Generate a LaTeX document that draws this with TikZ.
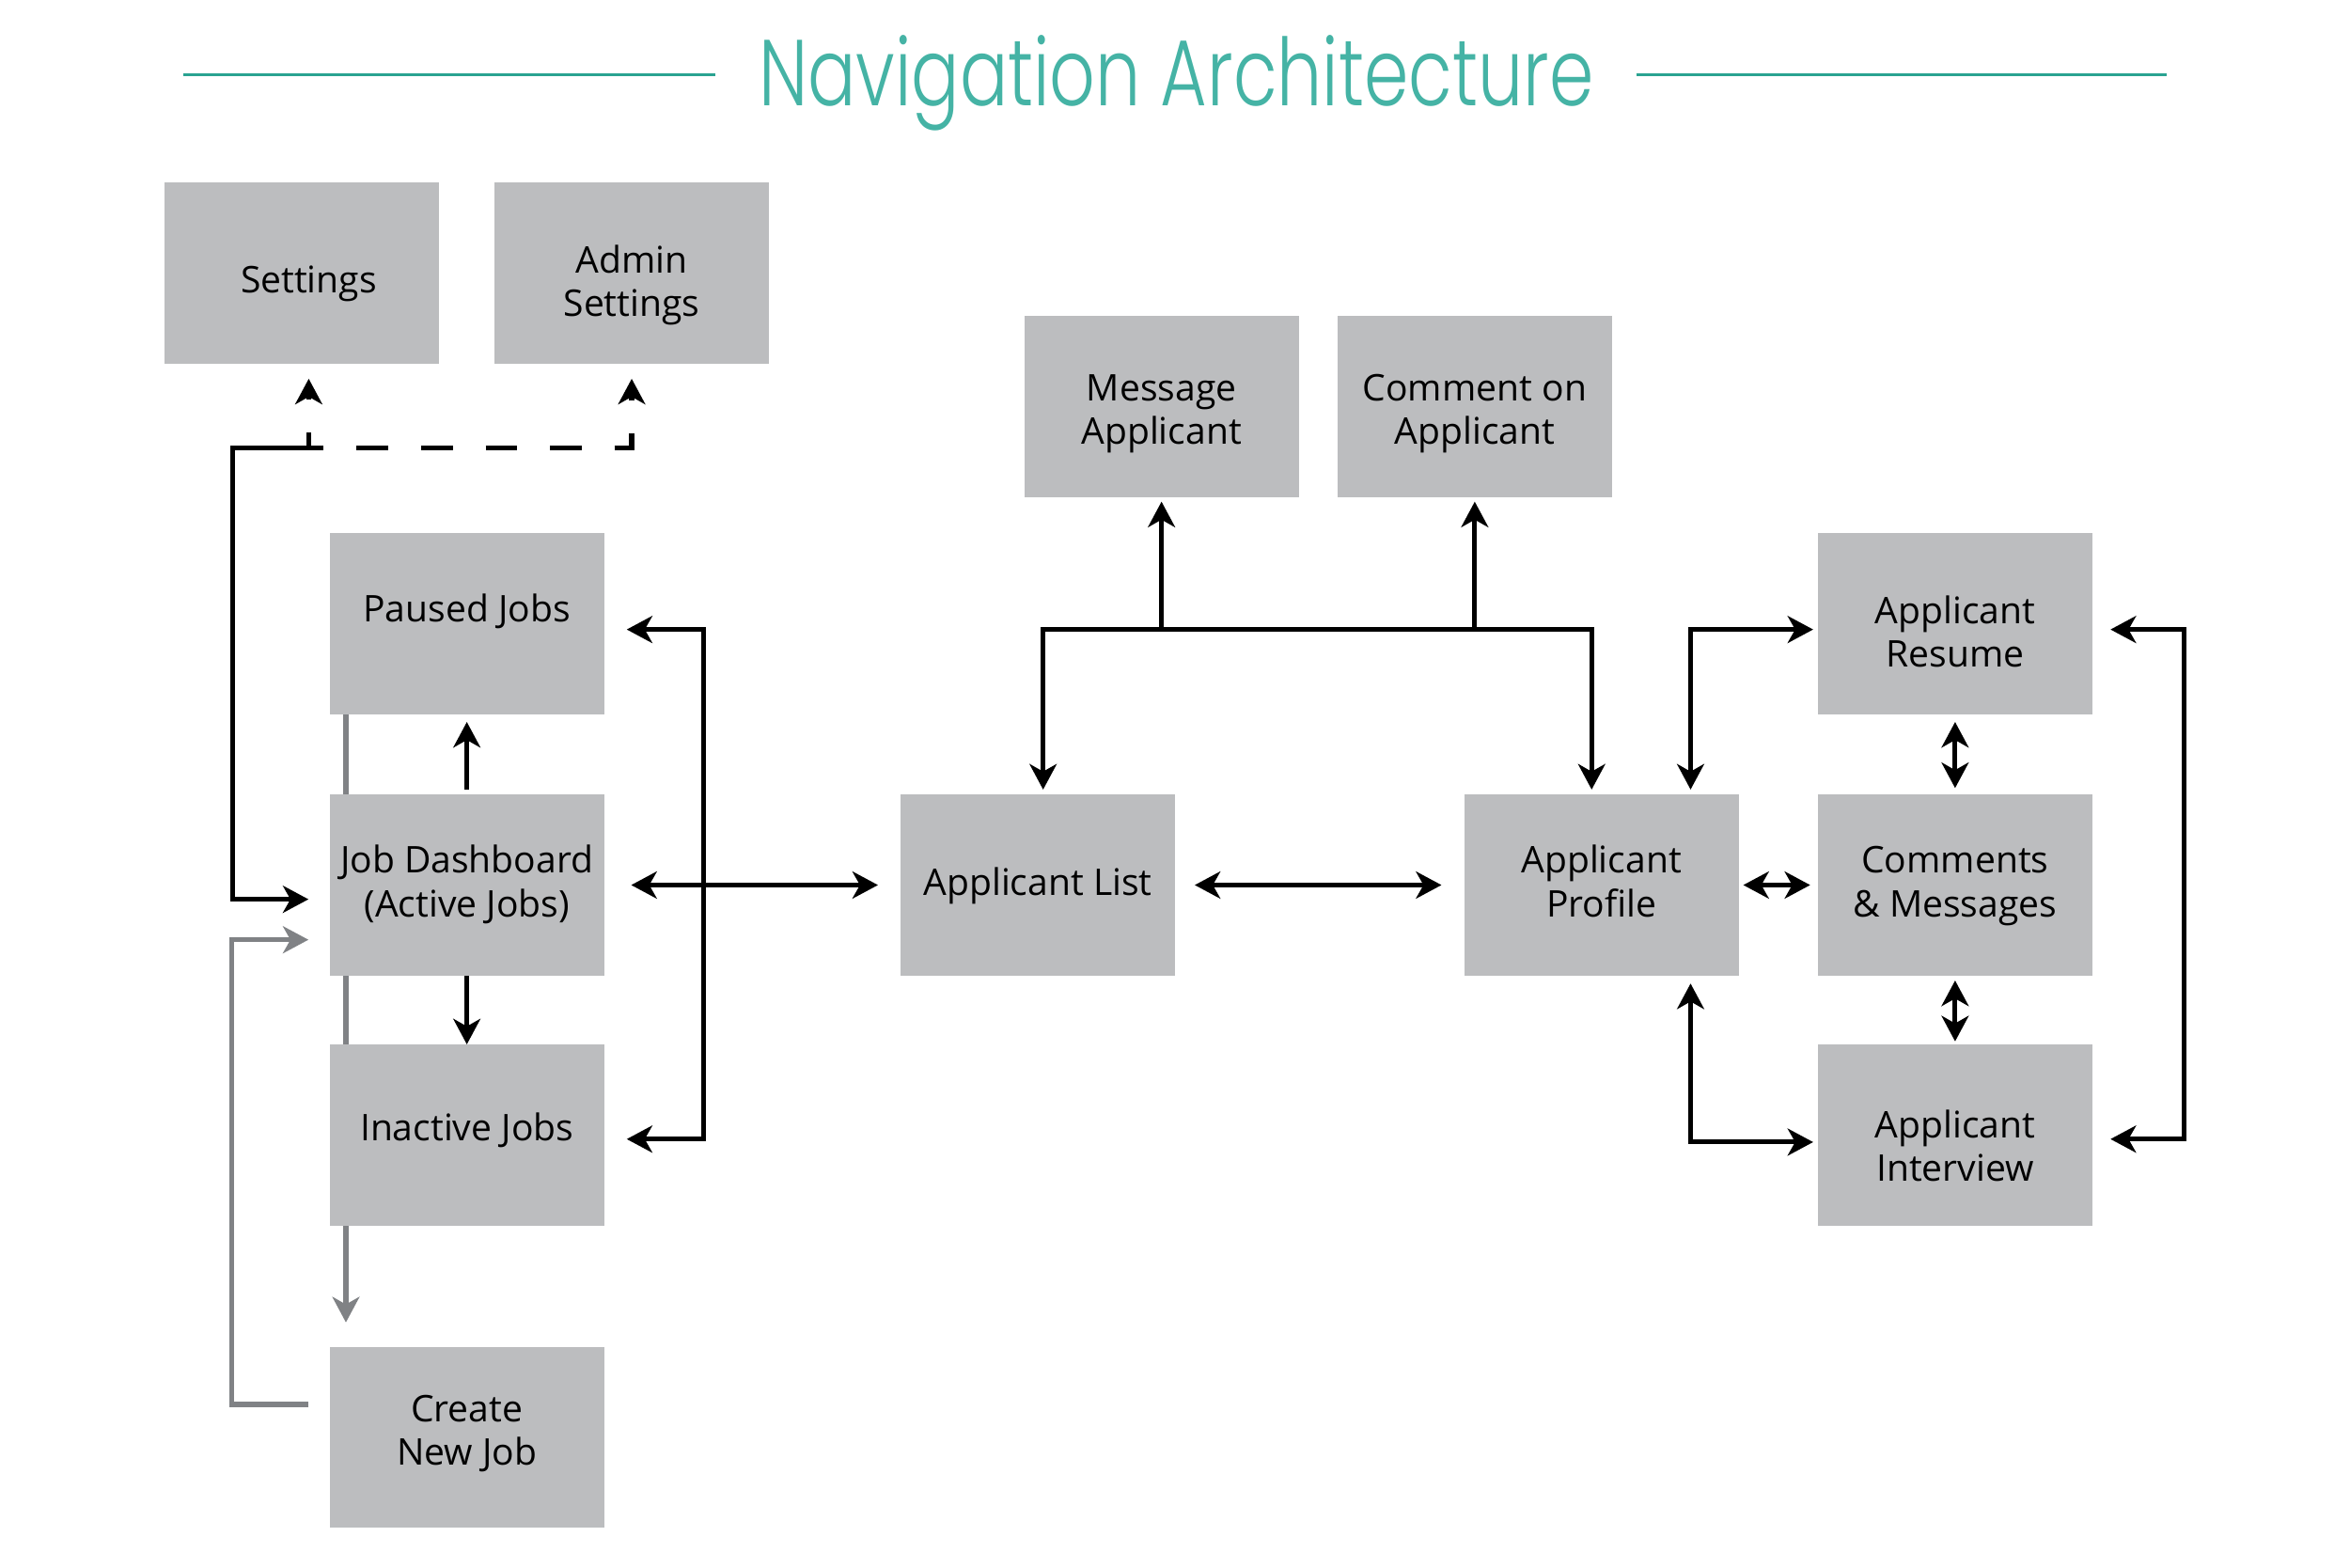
\documentclass[tikz,border=0pt]{standalone}
\usepackage{fontspec}
\usepackage{graphicx}
\setmainfont{Open Sans}
\newfontfamily\titlefont{Poppins Light}
\usetikzlibrary{arrows.meta,backgrounds,calc}
\definecolor{boxgray}{HTML}{BCBDBF}
\definecolor{linegray}{HTML}{808285}
\definecolor{tealtext}{HTML}{45B3A5}
\definecolor{tealline}{HTML}{2AA391}
% text with fixed top (#1) and bottom (#2) struts, to place the baselines
\newcommand\bxt[3]{\rule{0pt}{#1pt}#3\rule[-#2pt]{0pt}{#2pt}}
\tikzset{
  nav/.tip={Stealth[length=17pt,width=18pt,inset=5pt]},
  box/.style={fill=boxgray, minimum width=183pt, minimum height=121pt, inner sep=0pt,
    align=center, font=\fontsize{24.5}{29}\selectfont, text=black},
  conn/.style={line width=3.2pt, black},
  one/.style={conn, -{nav}},
  two/.style={conn, {nav}-{nav}},
  gone/.style={line width=3.2pt, linegray, -{nav}},
  dsh/.style={dash pattern=on 21pt off 22pt, dash phase=11pt},
}
\begin{document}
\begin{tikzpicture}[x=1pt,y=-1pt]
\useasboundingbox (0,0) rectangle (1568,1046);

% title
\node[anchor=base west, inner sep=0pt, text=tealtext] (title) at (506,70.7)
  {\resizebox{557pt}{47pt}{\titlefont Navigation Architecture}};
\draw[tealline, line width=1.7pt] ([xshift=-29pt,yshift=20.7pt]title.base west) -- ++(-355,0);
\draw[tealline, line width=1.7pt] ([xshift=28pt,yshift=20.7pt]title.base east) -- ++(354,0);

% boxes
\node[box] (settings) at (201.5,182) {\bxt{35}{8}{\hspace*{9pt}Settings}};
\node[box] (admin) at (421.5,182) {\bxt{37.6}{8}{Admin\\Settings}};
\node[box] (message) at (775,271) {\bxt{30.2}{8}{Message\\Applicant}};
\node[box] (comment) at (984,271) {\bxt{30.2}{8}{Comment on\\Applicant}};
\node[box] (paused) at (311.5,416) {\bxt{28}{30}{Paused Jobs}};
\node[box] (dash) at (311.5,590.5) {\bxt{21.2}{8}{Job Dashboard\\(Active Jobs)}};
\node[box] (inactive) at (311.5,757.5) {\bxt{27.8}{20}{Inactive Jobs}};
\node[box] (create) at (311.5,959) {\bxt{28}{20}{Create\\New Job}};
\node[box] (alist) at (692.5,590.5) {\bxt{21.4}{8}{Applicant List}};
\node[box] (profile) at (1068.5,590.5) {\bxt{21.2}{8}{Applicant\\Profile}};
\node[box] (resume) at (1304.5,416) {\bxt{37}{8}{Applicant\\Resume}};
\node[box] (comments) at (1304.5,590.5) {\bxt{21.2}{8}{Comments\\\&~Messages}};
\node[box] (interview) at (1304.5,757.5) {\bxt{40.4}{8}{Applicant\\Interview}};

% gray connectors
\begin{scope}[on background layer]
\draw[gone] ([xshift=11pt]paused.south west) -- ([xshift=11pt,yshift=16pt]create.north west);
\end{scope}
\draw[gone] ([xshift=-14pt,yshift=22pt]create.west) -- ++(-51,0) |- ([xshift=-14pt,yshift=-36.5pt]dash.west);

% settings connectors
\coordinate (j) at ([xshift=4.5pt,yshift=-56pt]settings.south);
\draw[one] (j) -- ++(-51,0) |- ([xshift=-14pt,yshift=-9.5pt]dash.west);
\draw[one, dsh] (j) -- ([xshift=4.5pt,yshift=-10pt]settings.south);
\draw[one, dsh] (j) -| ([yshift=-10pt]admin.south);

% job connectors
\draw[one] ([yshift=3pt]dash.north) -- ([yshift=-5pt]paused.south);
\draw[one] (dash.south) -- (inactive.north);
\draw[two] ([xshift=15pt,yshift=-4pt]paused.east) -- ++(51,0) |- ([xshift=15pt,yshift=-2.5pt]inactive.east);
\draw[two] ([xshift=18pt]dash.east) -- ([xshift=-15pt]alist.west);

% applicant tree
\coordinate (tl) at ([xshift=3.5pt,yshift=110pt]alist.north);
\coordinate (tr) at ([xshift=-6.5pt,yshift=110pt]profile.north);
\draw[two] ([xshift=3.5pt,yshift=3pt]alist.north) -- (tl) -- (tr) -- ([xshift=-6.5pt,yshift=3pt]profile.north);
\draw[one] (tl -| message.south) -- ([yshift=-3pt]message.south);
\draw[one] (tl -| comment.south) -- ([yshift=-3pt]comment.south);
\draw[two] ([xshift=13pt]alist.east) -- ([xshift=-15pt]profile.west);

% right cluster
\draw[two] ([xshift=3pt]profile.east) -- ([xshift=-5pt]comments.west);
\draw[two] ([xshift=59.5pt,yshift=3pt]profile.north) |- ([xshift=-3pt,yshift=-4pt]resume.west);
\draw[two] ([xshift=59.5pt,yshift=-5pt]profile.south) |- ([xshift=-3pt,yshift=-4.5pt]interview.west);
\draw[two] ([yshift=-5pt]resume.south) -- ([yshift=4pt]comments.north);
\draw[two] ([yshift=-3pt]comments.south) -- ([yshift=2pt]interview.north);
\draw[two] ([xshift=12pt,yshift=-4pt]resume.east) -- ++(49,0) |- ([xshift=12pt,yshift=-2.5pt]interview.east);
\end{tikzpicture}
\end{document}
